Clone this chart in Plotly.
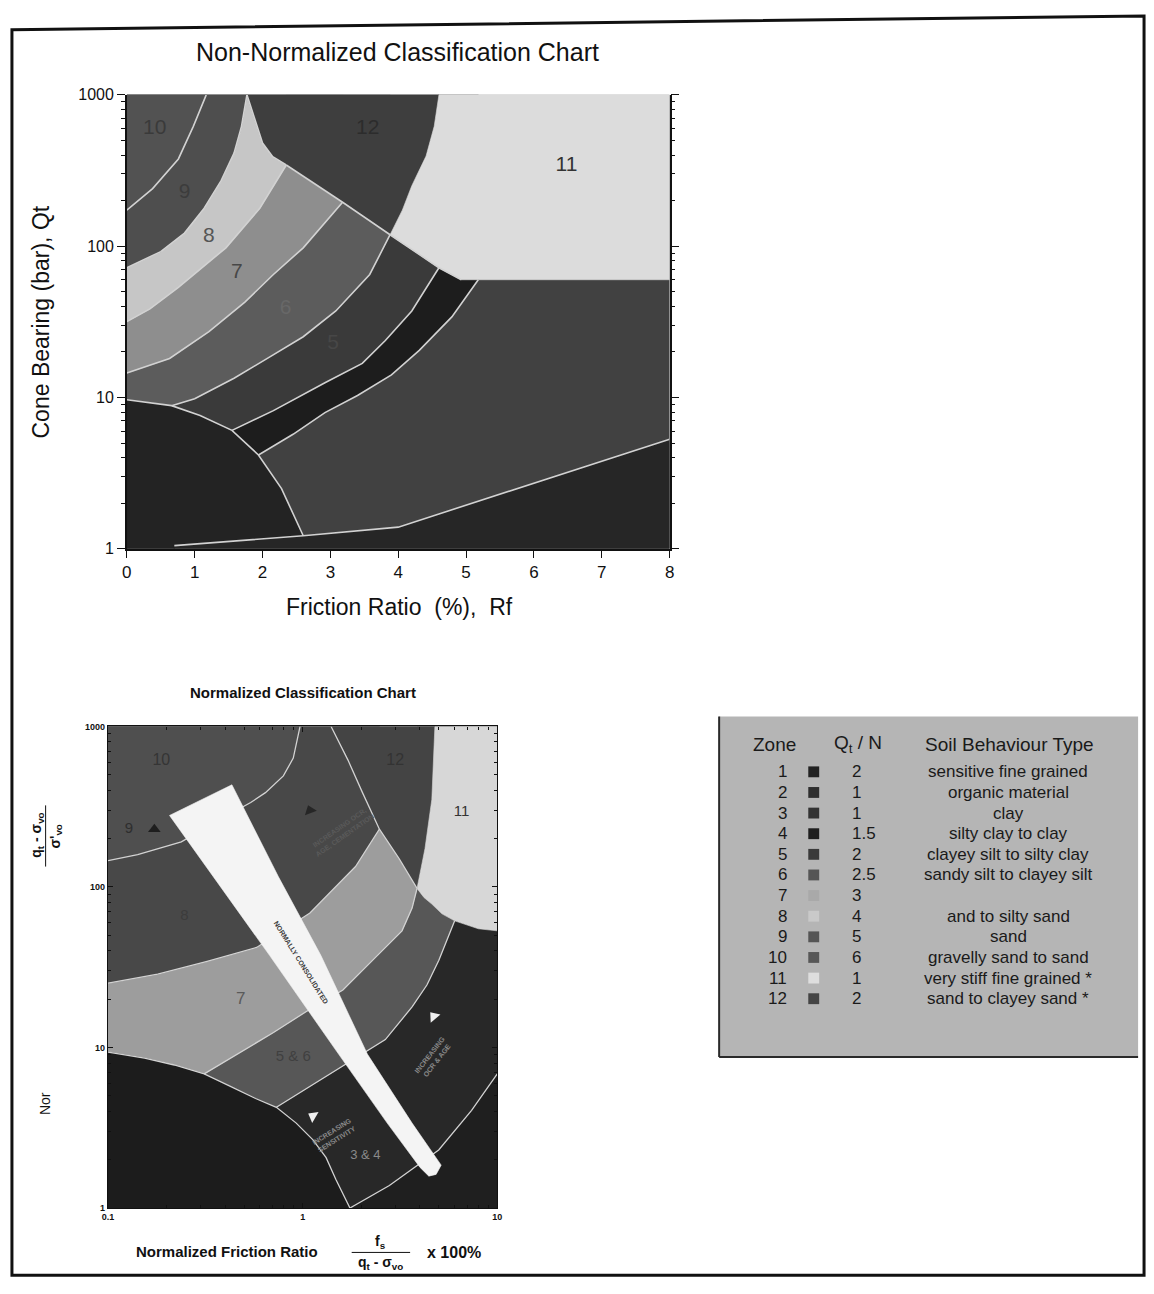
import numpy as np
import plotly.graph_objects as go

W, H = 1154, 1294
FONT = "Liberation Sans, Arial, sans-serif"

# ---------------- Top chart: Friction ratio Rf (%) vs cone bearing Qt (bar) ----------------
TOP_B10_9_RF = [1.17, 0.98, 0.76, 0.38, 0.0]
TOP_B10_9_QT = [1000, 619, 377, 240, 173]
TOP_B9_8_RF = [1.77, 1.69, 1.58, 1.39, 1.14, 0.85, 0.50, 0.0]
TOP_B9_8_QT = [1000, 619, 412, 271, 178, 122, 92, 72]
TOP_B8_12_RF = [1.77, 1.84, 2.00, 2.15, 2.35]
TOP_B8_12_QT = [1000, 800, 480, 390, 344]
TOP_DIAG_RF = [2.35, 3.18, 3.88, 4.60, 4.93]
TOP_DIAG_QT = [344, 195, 119, 72, 60]
TOP_B11_RF = [3.88, 4.06, 4.20, 4.41, 4.53, 4.60]
TOP_B11_QT = [119, 173, 251, 394, 619, 1000]
TOP_B11_FLOOR_RF = [4.93, 8.0]
TOP_B11_FLOOR_QT = [60, 60]
TOP_B8_7_RF = [2.35, 1.96, 1.46, 0.76, 0.34, 0.0]
TOP_B8_7_QT = [344, 178, 97.5, 53.5, 38.5, 31.7]
TOP_B7_6_RF = [3.18, 2.89, 2.60, 2.16, 1.74, 1.21, 0.63, 0.0]
TOP_B7_6_QT = [195, 138, 97.5, 65, 42.7, 27.2, 18.1, 14.5]
TOP_B6_5_RF = [3.88, 3.58, 3.08, 2.60, 2.12, 1.58, 1.00, 0.66]
TOP_B6_5_QT = [119, 65, 37.3, 25.2, 18.7, 13.4, 9.8, 8.83]
TOP_B5_4_RF = [4.60, 4.20, 3.81, 3.47, 2.92, 2.16, 1.55]
TOP_B5_4_QT = [72, 37.3, 23.8, 16.8, 12.5, 8.19, 6.06]
TOP_B4_3_RF = [5.18, 4.79, 4.31, 3.90, 3.40, 2.92, 2.45, 1.94]
TOP_B4_3_QT = [60, 34.1, 20.5, 14.1, 10.3, 7.94, 5.71, 4.17]
TOP_B1_RF = [0.0, 0.66, 1.08, 1.55, 1.94, 2.28, 2.60]
TOP_B1_QT = [9.66, 8.83, 7.6, 6.06, 4.17, 2.50, 1.22]
TOP_B2_RF = [0.70, 2.60, 4.00, 8.00]
TOP_B2_QT = [1.05, 1.22, 1.39, 5.3]

TOP_LABEL_TEXT = ["10", "9", "8", "7", "6", "5", "12", "11"]
TOP_LABEL_RF = [0.41, 0.85, 1.21, 1.62, 2.34, 3.04, 3.55, 6.48]
TOP_LABEL_QT = [600, 226, 115, 67, 38.5, 22.7, 600, 339]
TOP_LABEL_COLOR = ["#3a3a3a", "#3c3c3c", "#555555", "#474747", "#686868",
                   "#474747", "#2c2c2c", "#333333"]

# ---------------- Bottom chart: normalized friction ratio vs normalized cone resistance ----------------
BOT_B10_9_FR = [0.97, 0.895, 0.796, 0.644, 0.541, 0.394, 0.238, 0.142, 0.1]
BOT_B10_9_Q = [1000, 635, 492, 387, 336, 272, 191, 159, 146]
BOT_B12_FR = [1.40, 1.71, 2.03, 2.48, 3.13, 3.87]
BOT_B12_Q = [1000, 617, 387, 229, 150, 98]
BOT_B11_SIDE_FR = [3.87, 4.05, 4.25, 4.61, 4.78]
BOT_B11_SIDE_Q = [98, 128, 173, 351, 1000]
BOT_B11_BASE_FR = [3.87, 4.20, 4.61, 5.20, 6.04, 8.0, 10.0]
BOT_B11_BASE_Q = [98, 86, 78.2, 68, 61.5, 54.9, 53.3]
BOT_U7_FR = [0.1, 0.180, 0.323, 0.580, 1.09, 1.87, 2.48]
BOT_U7_Q = [25.2, 28.6, 34.4, 42.0, 68.9, 134, 229]
BOT_L7_FR = [0.312, 0.481, 0.708, 1.04, 1.61, 2.34, 3.24, 3.65, 3.87]
BOT_L7_Q = [6.85, 9.36, 12.4, 16.7, 22.8, 35.9, 53.3, 73.9, 98]
BOT_C2_FR = [0.733, 1.01, 1.43, 2.66, 3.65, 4.35, 5.01, 6.04]
BOT_C2_Q = [4.24, 5.39, 7.05, 11.2, 17.9, 24.5, 34.9, 61.5]
BOT_B1_FR = [0.1, 0.154, 0.219, 0.312, 0.428, 0.573, 0.733, 0.927, 1.13, 1.32, 1.48, 1.75]
BOT_B1_Q = [9.36, 8.59, 7.78, 6.85, 5.70, 4.81, 4.24, 3.38, 2.66, 2.06, 1.51, 1.0]
BOT_B2_FR = [1.75, 2.79, 5.0, 7.38, 10.0]
BOT_B2_Q = [1.0, 1.38, 2.30, 4.06, 6.85]
BOT_NC_FR = [0.207, 0.371, 0.676, 1.53, 2.72, 4.01, 4.45, 4.85, 5.15, 3.65, 2.15, 1.24, 0.750, 0.433]
BOT_NC_Q = [279, 104, 37.5, 9.1, 3.38, 1.79, 1.58, 1.62, 1.85, 3.38, 9.1, 37.5, 116, 433]

BOT_LABEL_TEXT = ["10", "9", "8", "7", "5 & 6", "3 & 4", "12", "11"]
BOT_LABEL_FR = [0.188, 0.128, 0.247, 0.481, 0.895, 2.10, 2.99, 6.56]
BOT_LABEL_Q = [609, 229, 65.9, 19.8, 8.71, 2.12, 609, 292]
BOT_LABEL_COLOR = ["#353535", "#2e2e2e", "#3c3c3c", "#5a5a5a", "#404040",
                   "#8a8a8a", "#333333", "#333333"]
BOT_LABEL_SIZE = [16, 15, 15, 17, 15, 13, 16, 15]

BOT_ARROW_FR = [0.173, 1.09, 1.13, 4.72]
BOT_ARROW_Q = [229, 300, 3.73, 15.6]
BOT_ARROW_COLOR = ["#1e1e1e", "#262626", "#f0f0f0", "#f0f0f0"]
BOT_ARROW_ANGLE = [0, -20, -60, -40]

BOT_NOTE_TEXT = ["NORMALLY CONSOLIDATED", "INCREASING<br>SENSITIVITY",
                 "INCREASING<br>OCR & AGE", "INCREASING OCR,<br>AGE, CEMENTATION"]
BOT_NOTE_FR = [0.982, 1.46, 4.72, 1.61]
BOT_NOTE_Q = [33.9, 2.85, 8.71, 220]
BOT_NOTE_ANGLE = [58, -32, -52, -35]
BOT_NOTE_COLOR = ["#3a3a3a", "#8a8a8a", "#8a8a8a", "#5a5a5a"]

# ---------------- Legend table ----------------
LEGEND_ZONES = ["1", "2", "3", "4", "5", "6", "7", "8", "9", "10", "11", "12"]
LEGEND_QTN = ["2", "1", "1", "1.5", "2", "2.5", "3", "4", "5", "6", "1", "2"]
LEGEND_TYPES = ["sensitive fine grained", "organic material", "clay",
                "silty clay to clay", "clayey silt to silty clay",
                "sandy silt to clayey silt", "", "and to silty sand", "sand",
                "gravelly sand to sand", "very stiff fine grained *",
                "sand to clayey sand *"]
LEGEND_SWATCH = ["#222222", "#2e2e2e", "#333333", "#1f1f1f", "#3a3a3a", "#555555",
                 "#a9a9a9", "#c9c9c9", "#555555", "#575757", "#dedede", "#444444"]

fig = go.Figure()


def px(x):
    return x / W


def py(y):
    return 1 - y / H


def add_fill(xs, ys, color, xa, ya):
    fig.add_trace(go.Scatter(
        x=list(xs) + [xs[0]], y=list(ys) + [ys[0]], mode="lines", fill="toself",
        fillcolor=color, line=dict(width=0.6, color=color), hoverinfo="skip",
        showlegend=False, xaxis=xa, yaxis=ya))


def add_line(xs, ys, xa, ya, color="#d2d2d2", width=1.6):
    fig.add_trace(go.Scatter(
        x=xs, y=ys, mode="lines", line=dict(color=color, width=width),
        hoverinfo="skip", showlegend=False, xaxis=xa, yaxis=ya))


# ---- top chart fills ----
XA, YA = "x", "y"
add_fill([0, 8, 8, 0], [1, 1, 1000, 1000], "#414141", XA, YA)  # zone 3
add_fill(TOP_B4_3_RF + [0, 0, TOP_B4_3_RF[0]], TOP_B4_3_QT + [TOP_B4_3_QT[-1], 1000, 1000], "#1d1d1d", XA, YA)
add_fill(TOP_B5_4_RF + [0, 0, TOP_B5_4_RF[0]], TOP_B5_4_QT + [TOP_B5_4_QT[-1], 1000, 1000], "#3a3a3a", XA, YA)
add_fill(TOP_B6_5_RF + [0, 0, TOP_B6_5_RF[0]], TOP_B6_5_QT + [TOP_B6_5_QT[-1], 1000, 1000], "#5c5c5c", XA, YA)
add_fill(TOP_B7_6_RF + [0, TOP_B7_6_RF[0]], TOP_B7_6_QT + [1000, 1000], "#8e8e8e", XA, YA)
add_fill(TOP_B8_7_RF + [0, TOP_B8_7_RF[0]], TOP_B8_7_QT + [1000, 1000], "#c6c6c6", XA, YA)
add_fill(TOP_B8_12_RF + TOP_DIAG_RF[1:3] + TOP_B11_RF[1:],
         TOP_B8_12_QT + TOP_DIAG_QT[1:3] + TOP_B11_QT[1:], "#3e3e3e", XA, YA)  # zone 12
add_fill(TOP_B11_RF[::-1] + TOP_DIAG_RF[3:] + [TOP_B11_FLOOR_RF[1], 8],
         TOP_B11_QT[::-1] + TOP_DIAG_QT[3:] + [TOP_B11_FLOOR_QT[1], 1000], "#dcdcdc", XA, YA)  # zone 11
add_fill(TOP_B9_8_RF + [0], TOP_B9_8_QT + [1000], "#4e4e4e", XA, YA)
add_fill(TOP_B10_9_RF + [0], TOP_B10_9_QT + [1000], "#525252", XA, YA)
add_fill(TOP_B2_RF + [8, TOP_B2_RF[0]], TOP_B2_QT + [1, 1], "#262626", XA, YA)
add_fill([0] + TOP_B1_RF + [TOP_B2_RF[0], TOP_B2_RF[0]],
         [1] + TOP_B1_QT + [TOP_B2_QT[0], 1], "#232323", XA, YA)

for xs, ys in [(TOP_B10_9_RF, TOP_B10_9_QT), (TOP_B9_8_RF, TOP_B9_8_QT),
               (TOP_B8_12_RF, TOP_B8_12_QT), (TOP_DIAG_RF, TOP_DIAG_QT),
               (TOP_B8_7_RF, TOP_B8_7_QT), (TOP_B7_6_RF, TOP_B7_6_QT),
               (TOP_B6_5_RF, TOP_B6_5_QT), (TOP_B5_4_RF, TOP_B5_4_QT),
               (TOP_B4_3_RF, TOP_B4_3_QT), (TOP_B1_RF, TOP_B1_QT),
               (TOP_B2_RF, TOP_B2_QT)]:
    add_line(xs, ys, XA, YA)

fig.add_trace(go.Scatter(
    x=TOP_LABEL_RF, y=TOP_LABEL_QT, mode="text", text=TOP_LABEL_TEXT,
    textfont=dict(family=FONT, size=21, color=TOP_LABEL_COLOR),
    hoverinfo="skip", showlegend=False, xaxis=XA, yaxis=YA))

# ---- bottom chart fills ----
XB, YB = "x2", "y2"
add_fill([0.1, 10, 10, 0.1], [1, 1, 1000, 1000], "#282828", XB, YB)
add_fill(BOT_C2_FR + [BOT_C2_FR[-1], 0.1, 0.1], BOT_C2_Q + [1000, 1000, BOT_C2_Q[0]], "#575757", XB, YB)
add_fill(BOT_L7_FR + [BOT_L7_FR[-1], 0.1, 0.1], BOT_L7_Q + [1000, 1000, BOT_L7_Q[0]], "#9d9d9d", XB, YB)
add_fill(BOT_U7_FR + [BOT_U7_FR[-1], 0.1], BOT_U7_Q + [1000, 1000], "#484848", XB, YB)
add_fill(BOT_B10_9_FR + [0.1], BOT_B10_9_Q + [1000], "#4f4f4f", XB, YB)
add_fill(BOT_B12_FR + BOT_B11_SIDE_FR[1:], BOT_B12_Q + BOT_B11_SIDE_Q[1:], "#444444", XB, YB)
add_fill(BOT_B11_SIDE_FR[::-1] + BOT_B11_BASE_FR[1:] + [10],
         BOT_B11_SIDE_Q[::-1] + BOT_B11_BASE_Q[1:] + [1000], "#d7d7d7", XB, YB)
add_fill(BOT_B2_FR + [10], BOT_B2_Q + [1], "#1f1f1f", XB, YB)
add_fill([0.1] + BOT_B1_FR, [1] + BOT_B1_Q, "#1c1c1c", XB, YB)

for xs, ys in [(BOT_B10_9_FR, BOT_B10_9_Q), (BOT_B12_FR, BOT_B12_Q),
               (BOT_U7_FR, BOT_U7_Q), (BOT_L7_FR, BOT_L7_Q), (BOT_C2_FR, BOT_C2_Q),
               (BOT_B1_FR, BOT_B1_Q), (BOT_B2_FR, BOT_B2_Q)]:
    add_line(xs, ys, XB, YB, width=1.3)

add_fill(BOT_NC_FR, BOT_NC_Q, "#f4f4f4", XB, YB)

fig.add_trace(go.Scatter(
    x=BOT_LABEL_FR, y=BOT_LABEL_Q, mode="text", text=BOT_LABEL_TEXT,
    textfont=dict(family=FONT, size=BOT_LABEL_SIZE, color=BOT_LABEL_COLOR),
    hoverinfo="skip", showlegend=False, xaxis=XB, yaxis=YB))
fig.add_trace(go.Scatter(
    x=BOT_ARROW_FR, y=BOT_ARROW_Q, mode="markers",
    marker=dict(symbol="triangle-up", size=11, color=BOT_ARROW_COLOR,
                angle=BOT_ARROW_ANGLE, line=dict(width=0)),
    hoverinfo="skip", showlegend=False, xaxis=XB, yaxis=YB))

annotations = []
for t, fx, fy, ang, col in zip(BOT_NOTE_TEXT, BOT_NOTE_FR, BOT_NOTE_Q, BOT_NOTE_ANGLE, BOT_NOTE_COLOR):
    annotations.append(dict(
        text="<b>" + t + "</b>", x=float(np.log10(fx)), y=float(np.log10(fy)),
        xref="x2", yref="y2", showarrow=False, textangle=ang,
        font=dict(family=FONT, size=7, color=col)))


def ann(text, x, y, size, color="#111111", angle=0, xanchor="center", bold=False):
    if bold:
        text = "<b>" + text + "</b>"
    annotations.append(dict(
        text=text, x=px(x), y=py(y), xref="paper", yref="paper", showarrow=False,
        textangle=angle, xanchor=xanchor, yanchor="middle",
        font=dict(family=FONT, size=size, color=color)))


# titles
ann("Non-Normalized Classification Chart", 395, 45, 25)
ann("Cone Bearing (bar), Qt", 35, 318, 23, angle=-90)
ann("Friction Ratio\u00a0\u00a0(%),\u00a0\u00a0Rf", 397, 607, 23)
ann("Normalized Classification Chart", 300, 694, 15, bold=True)
ann("q<sub>t</sub> - σ<sub>vo</sub>", 31, 838, 14, angle=-90, bold=True)
ann("σ'<sub>vo</sub>", 50, 840, 14, angle=-90, bold=True)
ann("Nor", 40, 1110, 14, angle=-90)
ann("Normalized Friction Ratio", 223, 1260, 15, bold=True)
ann("f<sub>s</sub>", 378, 1250, 14, bold=True)
ann("q<sub>t</sub> - σ<sub>vo</sub>", 378, 1272, 14, bold=True)
ann("x 100%", 452, 1261, 16, bold=True)

# legend table
ann("Zone", 776, 746, 19, color="#1a1a1a")
ann("Q<sub>t</sub> / N", 860, 746, 19, color="#1a1a1a")
ann("Soil Behaviour Type", 1013, 746, 19, color="#1a1a1a")
ROW0, DROW = 774, 20.9
shapes = []
for i, (z, q, t, c) in enumerate(zip(LEGEND_ZONES, LEGEND_QTN, LEGEND_TYPES, LEGEND_SWATCH)):
    yy = ROW0 + i * DROW
    ann(z, 791, yy, 17, color="#1a1a1a", xanchor="right")
    ann(q, 852, yy, 17, color="#1a1a1a", xanchor="left")
    if t:
        ann(t, 1012, yy, 17, color="#1a1a1a")
    shapes.append(dict(type="rect", xref="paper", yref="paper",
                       x0=px(810), x1=px(821), y0=py(yy + 5.5), y1=py(yy - 5.5),
                       fillcolor=c, line=dict(width=0), layer="above"))

# legend panel background and shadow edges
shapes.insert(0, dict(type="rect", xref="paper", yref="paper", x0=px(720), x1=px(1143),
                      y0=py(1062), y1=py(718), fillcolor="#b5b5b5", line=dict(width=0),
                      layer="below"))
shapes.append(dict(type="line", xref="paper", yref="paper", x0=px(720), x1=px(720),
                   y0=py(1063), y1=py(718), line=dict(color="#2a2a2a", width=2)))
shapes.append(dict(type="line", xref="paper", yref="paper", x0=px(720), x1=px(1143),
                   y0=py(1063), y1=py(1063), line=dict(color="#2a2a2a", width=2)))
# fraction bars
shapes.append(dict(type="line", xref="paper", yref="paper", x0=px(40), x1=px(40),
                   y0=py(870), y1=py(808), line=dict(color="#111111", width=1)))
shapes.append(dict(type="line", xref="paper", yref="paper", x0=px(349), x1=px(408),
                   y0=py(1261), y1=py(1261), line=dict(color="#111111", width=1)))
# outer frame
frame = "M {} {} L {} {} L {} {} L {} {} Z".format(px(6), py(22), px(1149), py(8),
                                                 px(1149), py(1284), px(6), py(1284))
shapes.append(dict(type="path", xref="paper", yref="paper", path=frame,
                   line=dict(color="#111111", width=3)))

axis_common = dict(showgrid=False, zeroline=False, showline=True, linecolor="#111111",
                   tickcolor="#111111", tickfont=dict(family=FONT, color="#111111"))

fig.update_layout(
    width=W, height=H, margin=dict(l=0, r=0, t=0, b=0),
    paper_bgcolor="white", plot_bgcolor="white", showlegend=False,
    annotations=annotations, shapes=shapes,
    xaxis=dict(domain=[px(122), px(670)], anchor="y", range=[0, 8], dtick=1, tick0=0,
               ticks="outside", ticklen=7, linewidth=1.5, **axis_common,
               ),
    yaxis=dict(domain=[py(548), py(88)], anchor="x", type="log", range=[0, 3], dtick=1,
               exponentformat="none", ticks="outside", ticklen=8, linewidth=1.5,
               mirror="ticks",
               minor=dict(ticks="outside", ticklen=4, dtick="D1", tickcolor="#111111"),
               **axis_common),
    xaxis2=dict(domain=[px(103), px(496)], anchor="y2", type="log", range=[-1, 1], dtick=1,
                exponentformat="none", ticks="inside", ticklen=5, linewidth=1.2, mirror="ticks",
                minor=dict(ticks="inside", ticklen=3, dtick="D1", tickcolor="#111111"),
                **axis_common),
    yaxis2=dict(domain=[py(1216), py(728)], anchor="x2", type="log", range=[0, 3], dtick=1,
                exponentformat="none", ticks="inside", ticklen=5, linewidth=1.2, mirror="ticks",
                minor=dict(ticks="inside", ticklen=3, dtick="D1", tickcolor="#111111"),
                **axis_common),
)
fig.update_xaxes(tickfont_size=17, selector=dict(anchor="y"))
fig.update_yaxes(tickfont_size=16, selector=dict(anchor="x"))
fig.layout.xaxis2.tickfont = dict(family=FONT, size=9, color="#111111", weight="bold")
fig.layout.yaxis2.tickfont = dict(family=FONT, size=9, color="#111111", weight="bold")

fig.write_html("out.html")
